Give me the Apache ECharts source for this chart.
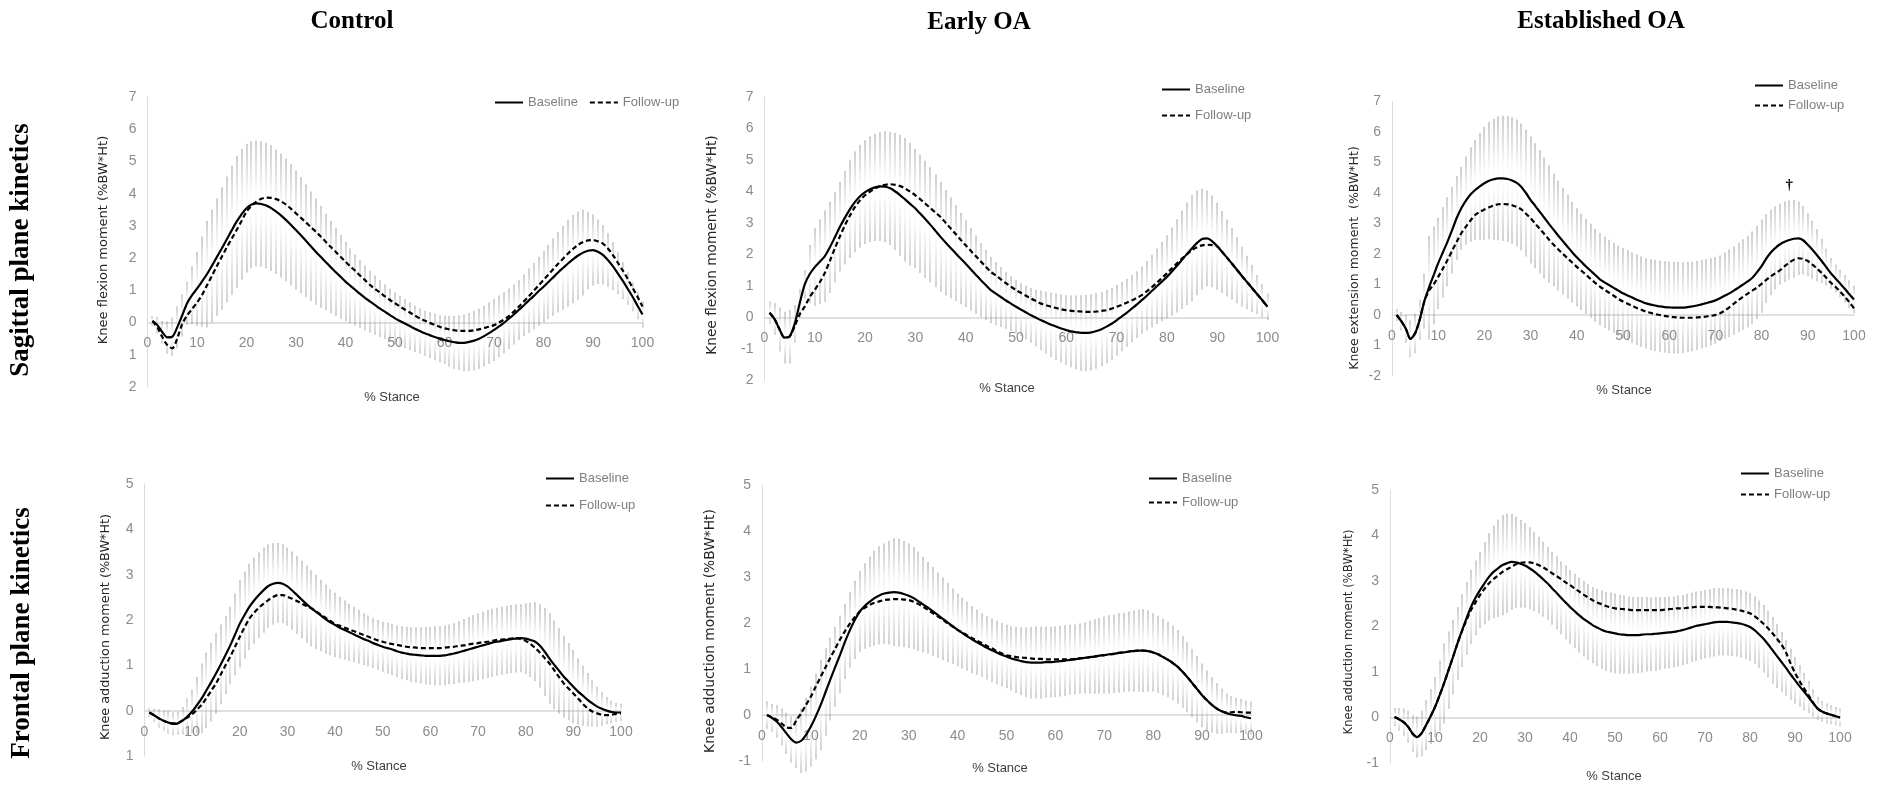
<!DOCTYPE html>
<html><head><meta charset="utf-8">
<script src="https://cdn.jsdelivr.net/npm/echarts@6/dist/echarts.min.js"></script>
<style>html,body{margin:0;padding:0;background:#fff}#c{width:1881px;height:787px}</style>
</head><body><div id="c"></div>
<script>
// % stance (x categories)
const stance = Array.from({length: 100}, (_, i) => i + 1);
const xTicks = [0,10,20,30,40,50,60,70,80,90,100];

// ---- Control, sagittal ----
const ctrlSagBase = [0.05,-0.08,-0.3,-0.46,-0.44,-0.15,0.22,0.6,0.85,1.05,
1.27,1.5,1.76,2.03,2.3,2.58,2.86,3.13,3.36,3.55,
3.66,3.7,3.68,3.63,3.55,3.44,3.32,3.18,3.03,2.87,
2.71,2.54,2.37,2.2,2.04,1.88,1.72,1.57,1.42,1.27,
1.14,1.01,0.88,0.76,0.65,0.54,0.43,0.33,0.23,0.13,
0.05,-0.03,-0.11,-0.19,-0.26,-0.33,-0.39,-0.45,-0.5,-0.54,
-0.58,-0.61,-0.63,-0.63,-0.6,-0.56,-0.5,-0.42,-0.33,-0.23,
-0.12,-0.01,0.12,0.25,0.39,0.53,0.68,0.82,0.97,1.11,
1.26,1.41,1.56,1.7,1.84,1.97,2.08,2.17,2.23,2.25,
2.2,2.1,1.94,1.75,1.53,1.3,1.05,0.8,0.52,0.25];
const ctrlSagFollow = [0.05,-0.15,-0.45,-0.7,-0.8,-0.5,-0.05,0.22,0.42,0.62,
0.85,1.15,1.45,1.75,2.04,2.33,2.6,2.87,3.15,3.44,
3.62,3.75,3.84,3.88,3.87,3.83,3.76,3.66,3.53,3.39,
3.25,3.11,2.96,2.82,2.67,2.51,2.35,2.2,2.04,1.89,
1.74,1.6,1.45,1.31,1.16,1.04,0.93,0.81,0.7,0.6,
0.5,0.4,0.31,0.22,0.13,0.06,-0.01,-0.07,-0.13,-0.18,
-0.21,-0.24,-0.26,-0.26,-0.26,-0.24,-0.21,-0.17,-0.13,-0.08,
0,0.09,0.2,0.34,0.49,0.65,0.81,0.98,1.15,1.32,
1.49,1.66,1.83,1.99,2.15,2.29,2.41,2.5,2.55,2.56,
2.52,2.45,2.3,2.1,1.86,1.62,1.36,1.08,0.8,0.5];
const ctrlSagSD = [0.15,0.25,0.35,0.5,0.6,0.65,0.65,0.67,0.9,1.15,
1.4,1.65,1.75,1.82,1.9,1.95,2.0,2.05,2.03,2.0,
1.97,1.95,1.95,1.95,1.95,1.93,1.92,1.9,1.88,1.85,
1.8,1.75,1.7,1.65,1.58,1.5,1.43,1.37,1.3,1.23,
1.16,1.1,1.05,1.0,0.96,0.92,0.88,0.85,0.82,0.8,
0.78,0.76,0.74,0.72,0.7,0.7,0.71,0.72,0.73,0.75,
0.78,0.82,0.85,0.88,0.9,0.92,0.93,0.94,0.95,0.96,
0.96,0.95,0.94,0.93,0.92,0.95,1.0,1.03,1.07,1.1,
1.15,1.2,1.25,1.3,1.35,1.37,1.37,1.33,1.2,1.1,
1.0,0.92,0.83,0.74,0.65,0.57,0.5,0.45,0.42,0.4];

// ---- Early OA, sagittal ----
const earlySagBase = [0.15,-0.05,-0.38,-0.64,-0.6,-0.2,0.45,1.05,1.38,1.6,
1.77,1.95,2.23,2.55,2.88,3.17,3.44,3.67,3.85,3.98,
4.07,4.13,4.16,4.15,4.1,4.0,3.88,3.74,3.6,3.46,
3.29,3.12,2.94,2.75,2.56,2.38,2.21,2.04,1.87,1.71,
1.53,1.36,1.19,1.03,0.87,0.76,0.65,0.54,0.44,0.34,
0.25,0.16,0.07,-0.01,-0.09,-0.16,-0.23,-0.29,-0.35,-0.4,
-0.44,-0.47,-0.49,-0.49,-0.47,-0.43,-0.37,-0.29,-0.2,-0.09,
0.03,0.15,0.28,0.41,0.55,0.69,0.84,0.99,1.14,1.29,
1.46,1.64,1.83,2.02,2.2,2.37,2.49,2.51,2.42,2.26,
2.08,1.89,1.7,1.5,1.3,1.11,0.92,0.73,0.54,0.34];
const earlySagFollow = [0.15,-0.05,-0.38,-0.64,-0.6,-0.28,0.1,0.35,0.65,0.88,
1.12,1.42,1.8,2.2,2.58,2.93,3.24,3.51,3.72,3.88,
4.0,4.1,4.17,4.21,4.23,4.21,4.17,4.09,3.99,3.88,
3.75,3.61,3.47,3.33,3.19,3.01,2.83,2.65,2.47,2.29,
2.12,1.95,1.78,1.61,1.45,1.33,1.21,1.09,0.98,0.87,
0.78,0.69,0.6,0.52,0.44,0.39,0.34,0.3,0.26,0.23,
0.21,0.2,0.19,0.18,0.18,0.19,0.21,0.23,0.28,0.34,
0.4,0.47,0.54,0.62,0.71,0.83,0.96,1.1,1.25,1.4,
1.56,1.72,1.87,2.01,2.14,2.23,2.29,2.31,2.3,2.26,
2.08,1.89,1.7,1.5,1.3,1.11,0.92,0.73,0.54,0.34];
const earlySagSD = [0.35,0.5,0.7,0.82,0.85,0.6,0.45,0.45,0.92,1.23,
1.35,1.45,1.45,1.43,1.42,1.48,1.55,1.6,1.63,1.65,
1.68,1.7,1.73,1.76,1.8,1.86,1.92,1.96,1.95,1.9,
1.88,1.86,1.83,1.79,1.74,1.67,1.6,1.52,1.45,1.38,
1.31,1.24,1.17,1.11,1.05,1.0,0.95,0.9,0.87,0.84,
0.84,0.85,0.87,0.9,0.94,0.98,1.02,1.05,1.08,1.11,
1.14,1.17,1.2,1.21,1.21,1.2,1.18,1.16,1.14,1.12,
1.1,1.08,1.07,1.06,1.06,1.1,1.15,1.2,1.26,1.32,
1.4,1.48,1.56,1.63,1.69,1.66,1.6,1.52,1.45,1.38,
1.3,1.22,1.14,1.05,0.95,0.85,0.75,0.62,0.52,0.42];

// ---- Established OA, sagittal ----
const estSagBase = [0,-0.2,-0.45,-0.78,-0.6,-0.15,0.45,0.9,1.3,1.7,
2.05,2.4,2.78,3.18,3.5,3.75,3.95,4.1,4.22,4.32,
4.4,4.45,4.48,4.48,4.46,4.41,4.33,4.2,4.0,3.77,
3.58,3.38,3.18,2.98,2.79,2.6,2.42,2.24,2.06,1.89,
1.74,1.59,1.45,1.31,1.17,1.07,0.98,0.89,0.8,0.71,
0.64,0.57,0.5,0.44,0.38,0.34,0.31,0.28,0.26,0.25,
0.24,0.24,0.24,0.26,0.28,0.31,0.35,0.39,0.43,0.48,
0.55,0.63,0.71,0.8,0.9,1.0,1.1,1.22,1.4,1.6,
1.85,2.05,2.2,2.32,2.4,2.46,2.5,2.51,2.45,2.3,
2.14,1.96,1.77,1.57,1.37,1.2,1.03,0.86,0.68,0.51];
const estSagFollow = [0,-0.2,-0.45,-0.78,-0.6,-0.15,0.45,0.8,1.0,1.25,
1.52,1.8,2.1,2.4,2.68,2.9,3.1,3.28,3.38,3.46,
3.53,3.59,3.63,3.64,3.63,3.6,3.54,3.46,3.32,3.17,
3.0,2.82,2.65,2.47,2.3,2.15,2.0,1.86,1.72,1.58,
1.45,1.32,1.18,1.05,0.93,0.83,0.73,0.63,0.53,0.44,
0.37,0.3,0.23,0.17,0.11,0.07,0.03,0,-0.03,-0.05,
-0.07,-0.08,-0.09,-0.09,-0.09,-0.08,-0.07,-0.05,-0.03,0,
0.06,0.14,0.25,0.37,0.49,0.6,0.7,0.8,0.9,1.02,
1.15,1.27,1.37,1.47,1.6,1.72,1.81,1.86,1.84,1.77,
1.65,1.52,1.38,1.22,1.06,0.92,0.77,0.6,0.42,0.22];
const estSagSD = [0.2,0.3,0.45,0.6,0.65,0.65,0.9,1.7,1.6,1.5,
1.48,1.46,1.42,1.38,1.36,1.45,1.55,1.64,1.75,1.85,
1.92,1.98,2.03,2.05,2.06,2.07,2.08,2.08,2.08,2.08,
2.05,2.02,1.98,1.92,1.85,1.8,1.75,1.7,1.65,1.61,
1.58,1.56,1.54,1.52,1.51,1.5,1.49,1.48,1.48,1.48,
1.48,1.48,1.48,1.48,1.48,1.49,1.5,1.5,1.5,1.5,
1.5,1.5,1.49,1.48,1.47,1.46,1.45,1.44,1.43,1.42,
1.4,1.42,1.44,1.45,1.46,1.48,1.5,1.52,1.53,1.53,
1.45,1.4,1.36,1.33,1.32,1.3,1.27,1.2,1.12,1.03,
0.95,0.85,0.72,0.6,0.5,0.45,0.45,0.45,0.45,0.45];

// ---- Control, frontal ----
const ctrlFrBase = [-0.04,-0.1,-0.17,-0.22,-0.26,-0.29,-0.28,-0.22,-0.13,-0.02,
0.12,0.27,0.45,0.63,0.82,1.02,1.23,1.44,1.68,1.92,
2.11,2.29,2.43,2.55,2.66,2.75,2.8,2.82,2.8,2.74,
2.65,2.55,2.45,2.35,2.26,2.18,2.1,2.02,1.95,1.89,
1.83,1.78,1.73,1.68,1.63,1.58,1.54,1.49,1.45,1.41,
1.38,1.35,1.31,1.28,1.26,1.24,1.23,1.22,1.21,1.21,
1.21,1.21,1.22,1.24,1.26,1.29,1.32,1.35,1.38,1.41,
1.44,1.47,1.5,1.52,1.54,1.56,1.58,1.59,1.6,1.59,
1.56,1.52,1.43,1.3,1.15,1.01,0.88,0.75,0.64,0.53,
0.42,0.33,0.24,0.16,0.09,0.04,0,-0.03,-0.04,-0.04];
const ctrlFrFollow = [-0.04,-0.1,-0.17,-0.22,-0.26,-0.28,-0.27,-0.21,-0.15,-0.08,
0.02,0.13,0.28,0.44,0.6,0.8,1.0,1.19,1.41,1.63,
1.84,2.03,2.16,2.27,2.36,2.44,2.51,2.55,2.55,2.51,
2.47,2.42,2.36,2.31,2.26,2.19,2.12,2.05,1.98,1.91,
1.87,1.83,1.79,1.75,1.71,1.67,1.63,1.59,1.55,1.52,
1.49,1.47,1.45,1.43,1.41,1.4,1.39,1.38,1.38,1.38,
1.38,1.38,1.39,1.4,1.41,1.43,1.44,1.46,1.48,1.49,
1.51,1.52,1.54,1.56,1.57,1.58,1.59,1.6,1.58,1.54,
1.47,1.38,1.28,1.16,1.04,0.89,0.74,0.6,0.49,0.38,
0.27,0.15,0.05,-0.02,-0.06,-0.09,-0.1,-0.09,-0.07,-0.06];
const ctrlFrSD = [0.1,0.15,0.2,0.22,0.25,0.25,0.25,0.3,0.4,0.48,
0.62,0.77,0.83,0.87,0.89,0.88,0.86,0.85,0.9,0.96,
0.96,0.95,0.95,0.94,0.94,0.92,0.9,0.88,0.87,0.86,
0.86,0.86,0.85,0.85,0.84,0.82,0.79,0.76,0.73,0.71,
0.68,0.65,0.63,0.61,0.59,0.57,0.56,0.55,0.55,0.55,
0.56,0.57,0.57,0.58,0.59,0.6,0.61,0.62,0.63,0.64,
0.65,0.65,0.66,0.66,0.67,0.68,0.7,0.71,0.73,0.74,
0.74,0.75,0.75,0.75,0.75,0.75,0.75,0.75,0.75,0.78,
0.82,0.87,0.92,0.97,1.0,0.98,0.94,0.9,0.85,0.81,
0.73,0.66,0.59,0.51,0.44,0.37,0.3,0.25,0.21,0.19];

// ---- Early OA, frontal ----
const earlyFrBase = [0,-0.06,-0.14,-0.26,-0.4,-0.53,-0.6,-0.56,-0.43,-0.25,
-0.03,0.22,0.5,0.78,1.05,1.32,1.6,1.85,2.07,2.25,
2.37,2.46,2.54,2.6,2.64,2.66,2.67,2.66,2.63,2.59,
2.54,2.47,2.4,2.33,2.25,2.17,2.09,2.01,1.93,1.85,
1.78,1.71,1.64,1.58,1.52,1.46,1.41,1.36,1.31,1.27,
1.23,1.2,1.17,1.15,1.14,1.14,1.14,1.15,1.15,1.16,
1.17,1.18,1.2,1.21,1.23,1.24,1.26,1.27,1.29,1.3,
1.32,1.33,1.35,1.36,1.38,1.39,1.4,1.4,1.39,1.36,
1.32,1.26,1.2,1.13,1.05,0.94,0.82,0.69,0.56,0.43,
0.32,0.22,0.14,0.08,0.04,0.01,-0.01,-0.02,-0.05,-0.07];
const earlyFrFollow = [0,-0.05,-0.1,-0.18,-0.27,-0.28,-0.12,0.04,0.22,0.4,
0.62,0.83,1.04,1.25,1.45,1.65,1.83,1.99,2.13,2.25,
2.33,2.39,2.44,2.47,2.5,2.51,2.52,2.52,2.51,2.5,
2.46,2.41,2.35,2.28,2.21,2.14,2.07,1.99,1.92,1.85,
1.79,1.73,1.67,1.61,1.56,1.5,1.45,1.39,1.34,1.3,
1.28,1.26,1.25,1.24,1.23,1.22,1.22,1.21,1.21,1.21,
1.21,1.21,1.21,1.22,1.23,1.24,1.26,1.27,1.29,1.3,
1.32,1.33,1.35,1.36,1.38,1.39,1.4,1.4,1.39,1.36,
1.32,1.26,1.2,1.13,1.05,0.94,0.82,0.69,0.56,0.43,
0.32,0.22,0.14,0.08,0.05,0.06,0.07,0.06,0.05,0.05];
const earlyFrSD = [0.3,0.3,0.35,0.4,0.45,0.5,0.55,0.7,0.8,0.87,
0.93,0.98,0.95,0.9,0.87,0.84,0.82,0.82,0.85,0.88,
0.93,0.98,1.03,1.07,1.09,1.13,1.17,1.17,1.15,1.14,
1.11,1.08,1.04,1.0,0.97,0.93,0.9,0.86,0.82,0.79,
0.77,0.75,0.73,0.71,0.69,0.69,0.69,0.69,0.69,0.69,
0.7,0.72,0.74,0.76,0.78,0.78,0.78,0.77,0.77,0.77,
0.77,0.77,0.76,0.76,0.76,0.77,0.79,0.81,0.82,0.84,
0.85,0.85,0.86,0.86,0.87,0.88,0.89,0.9,0.88,0.85,
0.84,0.83,0.82,0.81,0.8,0.78,0.76,0.74,0.72,0.69,
0.65,0.6,0.55,0.49,0.43,0.4,0.38,0.37,0.36,0.36];

// ---- Established OA, frontal ----
const estFrBase = [0.01,-0.04,-0.1,-0.2,-0.35,-0.43,-0.35,-0.17,0.02,0.23,
0.48,0.75,1.04,1.33,1.63,1.91,2.18,2.43,2.63,2.8,
2.95,3.09,3.2,3.28,3.35,3.39,3.42,3.41,3.38,3.34,
3.28,3.21,3.13,3.04,2.95,2.84,2.74,2.63,2.53,2.43,
2.34,2.25,2.17,2.1,2.03,1.98,1.93,1.89,1.87,1.85,
1.83,1.82,1.81,1.81,1.81,1.82,1.83,1.83,1.84,1.85,
1.86,1.87,1.88,1.9,1.92,1.95,1.98,2.01,2.03,2.05,
2.07,2.09,2.1,2.1,2.1,2.09,2.08,2.06,2.03,1.99,
1.92,1.83,1.73,1.61,1.48,1.35,1.22,1.09,0.95,0.82,
0.69,0.57,0.45,0.32,0.2,0.13,0.09,0.06,0.03,0];
const estFrFollow = [0.01,-0.04,-0.1,-0.2,-0.35,-0.43,-0.35,-0.17,0.02,0.23,
0.48,0.75,1.04,1.33,1.63,1.9,2.14,2.36,2.53,2.69,
2.83,2.95,3.04,3.12,3.2,3.26,3.31,3.37,3.4,3.41,
3.41,3.39,3.35,3.3,3.24,3.17,3.11,3.04,2.97,2.91,
2.84,2.77,2.7,2.64,2.58,2.53,2.49,2.45,2.42,2.4,
2.39,2.38,2.37,2.36,2.36,2.36,2.36,2.36,2.36,2.36,
2.37,2.38,2.39,2.4,2.4,2.41,2.42,2.43,2.43,2.43,
2.43,2.42,2.42,2.41,2.4,2.39,2.37,2.35,2.32,2.29,
2.23,2.15,2.06,1.96,1.85,1.73,1.6,1.43,1.19,0.98,
0.8,0.64,0.49,0.33,0.2,0.13,0.09,0.06,0.03,0];
const estFrSD = [0.2,0.25,0.3,0.35,0.4,0.45,0.5,0.55,0.6,0.66,
0.77,0.88,0.85,0.82,0.8,0.8,0.8,0.81,0.82,0.84,
0.9,0.96,1.02,1.07,1.1,1.09,1.05,1.0,0.96,0.93,
0.9,0.87,0.84,0.82,0.8,0.8,0.8,0.8,0.81,0.81,
0.82,0.82,0.83,0.83,0.84,0.85,0.86,0.87,0.88,0.88,
0.87,0.86,0.85,0.84,0.84,0.83,0.82,0.81,0.81,0.8,
0.79,0.79,0.78,0.78,0.77,0.77,0.76,0.76,0.75,0.75,
0.75,0.75,0.74,0.74,0.74,0.74,0.74,0.74,0.74,0.74,
0.74,0.74,0.74,0.73,0.73,0.7,0.66,0.61,0.56,0.51,
0.46,0.41,0.35,0.3,0.25,0.23,0.22,0.21,0.2,0.2];

// tick labels as printed (bottom to top)
const yLabCtrlSag  = ['2','1','0','1','2','3','4','5','6','7'];
const yLabEarlySag = ['2','-1','0','1','2','3','4','5','6','7'];
const yLabEstSag   = ['-2','1','0','1','2','3','4','5','6','7'];
const yLabCtrlFr   = ['1','0','1','2','3','4','5'];
const yLabEarlyFr  = ['-1','0','1','2','3','4','5'];
const yLabEstFr    = ['-1','0','1','2','3','4','5'];

const colTitles = ['Control', 'Early OA', 'Established OA'];
const rowTitles = ['Sagittal plane kinetics', 'Frontal plane kinetics'];
const seriesNames = ['Baseline', 'Follow-up'];
const xTitle = '% Stance';

const NARROW = "'Liberation Sans Narrow','Arial Narrow','Liberation Sans',sans-serif";
const SERIF = "'Liberation Serif','DejaVu Serif',serif";
const SANS = "'DejaVu Sans',sans-serif";

const panels = [
  {base: ctrlSagBase, follow: ctrlSagFollow, sd: ctrlSagSD, ymin: -2, ymax: 7, yLab: yLabCtrlSag,
   grid: {left: 147.5, top: 97, width: 495, height: 290},
   yTitle: 'Knee flexion moment (%BW*Ht)', yTitlePos: [104, 240], yTitleSize: 13,
   xTitlePos: [392, 397], legend: {left: 494, top: 96, orient: 'horizontal', gap: 11}},
  {base: earlySagBase, follow: earlySagFollow, sd: earlySagSD, ymin: -2, ymax: 7, yLab: yLabEarlySag,
   grid: {left: 764.5, top: 97, width: 503, height: 283.5},
   yTitle: 'Knee flexion moment (%BW*Ht)', yTitlePos: [712, 245], yTitleSize: 13.7,
   xTitlePos: [1007, 388], legend: {left: 1161, top: 83, orient: 'vertical', gap: 13}},
  {base: estSagBase, follow: estSagFollow, sd: estSagSD, ymin: -2, ymax: 7, yLab: yLabEstSag,
   grid: {left: 1392, top: 101.5, width: 462, height: 274.5},
   yTitle: 'Knee extension moment  (%BW*Ht)', yTitlePos: [1355, 258], yTitleSize: 12.5,
   xTitlePos: [1624, 390], legend: {left: 1754, top: 79, orient: 'vertical', gap: 7}, dagger: true},
  {base: ctrlFrBase, follow: ctrlFrFollow, sd: ctrlFrSD, ymin: -1, ymax: 5, yLab: yLabCtrlFr,
   grid: {left: 144.5, top: 484, width: 476.5, height: 272},
   yTitle: 'Knee adduction moment (%BW*Ht)', yTitlePos: [106, 627], yTitleSize: 12.8,
   xTitlePos: [379, 766], legend: {left: 545, top: 472, orient: 'vertical', gap: 14}},
  {base: earlyFrBase, follow: earlyFrFollow, sd: earlyFrSD, ymin: -1, ymax: 5, yLab: yLabEarlyFr,
   grid: {left: 762, top: 485, width: 489, height: 276},
   yTitle: 'Knee adduction moment (%BW*Ht)', yTitlePos: [710, 631], yTitleSize: 13.8,
   xTitlePos: [1000, 768], legend: {left: 1148, top: 472, orient: 'vertical', gap: 11}},
  {base: estFrBase, follow: estFrFollow, sd: estFrSD, ymin: -1, ymax: 5, yLab: yLabEstFr,
   grid: {left: 1390, top: 490, width: 450, height: 273},
   yTitle: 'Knee adduction moment (%BW*Ht)', yTitlePos: [1349, 632], yTitleSize: 11.6,
   xTitlePos: [1614, 776], legend: {left: 1740, top: 467, orient: 'vertical', gap: 8}}
];

const GREY = '140,140,140';
const barGrad = new echarts.graphic.LinearGradient(0, 0, 0, 1, [
  {offset: 0, color: 'rgba(' + GREY + ',0.85)'},
  {offset: 0.2, color: 'rgba(' + GREY + ',0.5)'},
  {offset: 0.38, color: 'rgba(' + GREY + ',0.12)'},
  {offset: 0.5, color: 'rgba(' + GREY + ',0)'},
  {offset: 0.62, color: 'rgba(' + GREY + ',0.12)'},
  {offset: 0.8, color: 'rgba(' + GREY + ',0.45)'},
  {offset: 1, color: 'rgba(' + GREY + ',0.8)'}
]);

const grids = [], xAxes = [], yAxes = [], series = [], legends = [], graphics = [];

panels.forEach((p, i) => {
  grids.push(Object.assign({containLabel: false}, p.grid));
  // axis sits on the zero line: shift it up from the grid bottom
  const zeroShift = p.grid.height * (0 - p.ymin) / (p.ymax - p.ymin);
  xAxes.push({
    gridIndex: i, type: 'value', min: 0, max: 100, interval: 10, position: 'bottom',
    offset: -zeroShift,
    axisLine: {show: true, onZero: false, lineStyle: {color: '#d6d6d6', width: 1.5}},
    axisTick: {show: false}, splitLine: {show: false},
    axisLabel: {color: '#8c8c8c', fontFamily: NARROW, fontSize: 14, margin: 14,
      formatter: v => (xTicks.indexOf(v) >= 0 ? String(v) : '')}
  });
  yAxes.push({
    gridIndex: i, type: 'value', min: p.ymin, max: p.ymax, interval: 1,
    axisLine: {show: true, onZero: false, lineStyle: {color: '#dcdcdc', width: 1}},
    axisTick: {show: false}, splitLine: {show: false},
    axisLabel: {color: '#8c8c8c', fontFamily: NARROW, fontSize: 14, margin: 11,
      formatter: v => p.yLab[Math.round(v - p.ymin)]}
  });
  series.push({
    type: 'custom', name: 'SD' + i, xAxisIndex: i, yAxisIndex: i, silent: true, z: 1,
    data: stance.map((x, k) => [x, p.base[k] - p.sd[k], p.base[k] + p.sd[k]]),
    encode: {x: 0, y: [1, 2]},
    renderItem: (params, api) => {
      const x = api.value(0);
      const top = api.coord([x, api.value(2)]);
      const bot = api.coord([x, api.value(1)]);
      return {type: 'rect', shape: {x: Math.round(top[0]) - 0.5, y: top[1], width: 1, height: bot[1] - top[1]},
              style: {fill: barGrad}};
    }
  });
  const baseSeries = {
    type: 'line', name: seriesNames[0], xAxisIndex: i, yAxisIndex: i, z: 4,
    data: stance.map((x, k) => [x, p.base[k]]), symbol: 'none', smooth: 0.3,
    color: '#000', lineStyle: {color: '#000', width: 2.2}
  };
  if (p.dagger) {
    baseSeries.markPoint = {
      symbol: 'circle', symbolSize: 1, itemStyle: {color: 'rgba(0,0,0,0)'},
      data: [{coord: [86, 4.25]}],
      label: {show: true, position: 'inside', formatter: '\u2020', color: '#000', fontSize: 15, fontWeight: 'bold', fontFamily: SERIF}
    };
  }
  series.push(baseSeries);
  series.push({
    type: 'line', name: seriesNames[1], xAxisIndex: i, yAxisIndex: i, z: 3,
    data: stance.map((x, k) => [x, p.follow[k]]), symbol: 'none', smooth: 0.3,
    color: '#000', lineStyle: {color: '#000', width: 2.2, type: [5, 3]}
  });
  legends.push({
    data: seriesNames, left: p.legend.left, top: p.legend.top, orient: p.legend.orient,
    itemGap: p.legend.gap, itemWidth: 28, itemHeight: 14, padding: 0, selectedMode: false,
    itemStyle: {opacity: 0, borderWidth: 0},
    textStyle: {color: '#7f7f7f', fontFamily: NARROW, fontSize: 13}
  });
  graphics.push({
    type: 'text', x: p.yTitlePos[0], y: p.yTitlePos[1], rotation: Math.PI / 2, silent: true,
    style: {text: p.yTitle, fontFamily: SANS, fontSize: p.yTitleSize, fill: '#262626',
            align: 'center', verticalAlign: 'middle', textAlign: 'center', textVerticalAlign: 'middle'}
  });
  graphics.push({
    type: 'text', x: p.xTitlePos[0], y: p.xTitlePos[1], silent: true,
    style: {text: xTitle, fontFamily: NARROW, fontSize: 13, fill: '#404040',
            align: 'center', verticalAlign: 'middle', textAlign: 'center', textVerticalAlign: 'middle'}
  });
});

const colPos = [[352, 22], [979, 23], [1601, 22]];
colTitles.forEach((t, i) => graphics.push({
  type: 'text', x: colPos[i][0], y: colPos[i][1], silent: true,
  style: {text: t, fontFamily: SERIF, fontWeight: 'bold', fontSize: 25, fill: '#000',
          align: 'center', verticalAlign: 'middle', textAlign: 'center', textVerticalAlign: 'middle'}
}));
const rowPos = [[21, 250], [22, 633]];
rowTitles.forEach((t, i) => graphics.push({
  type: 'text', x: rowPos[i][0], y: rowPos[i][1], rotation: Math.PI / 2, silent: true,
  style: {text: t, fontFamily: SERIF, fontWeight: 'bold', fontSize: 27, fill: '#000',
          align: 'center', verticalAlign: 'middle', textAlign: 'center', textVerticalAlign: 'middle'}
}));

const chart = echarts.init(document.getElementById('c'));
chart.setOption({
  animation: false, backgroundColor: '#fff',
  grid: grids, xAxis: xAxes, yAxis: yAxes, series: series, legend: legends, graphic: graphics
});
</script></body></html>
